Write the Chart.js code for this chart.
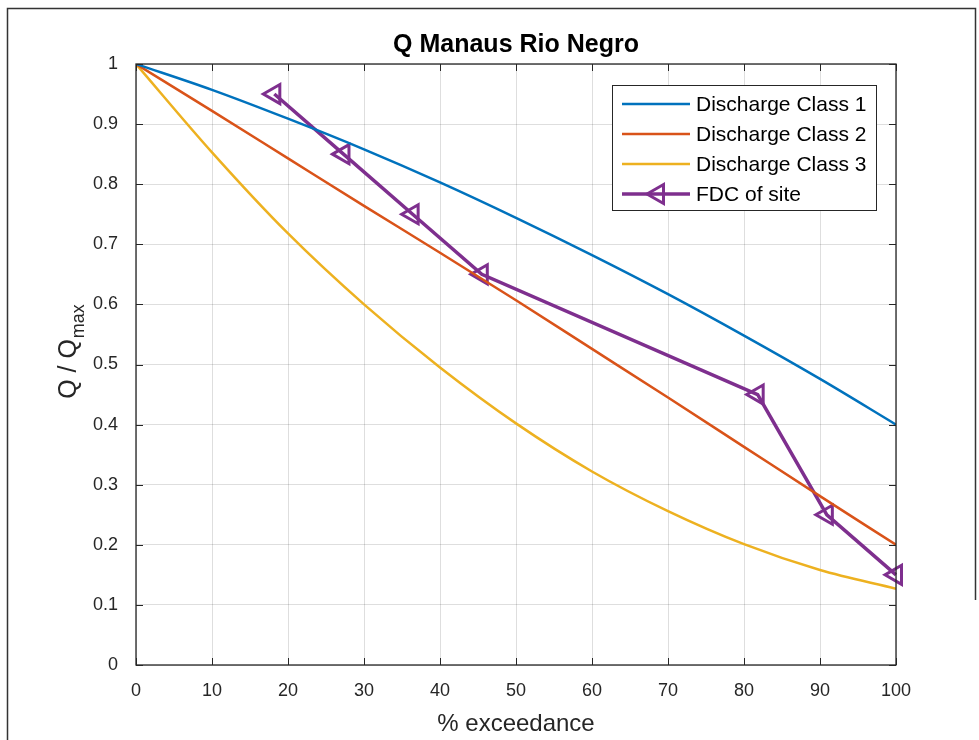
<!DOCTYPE html>
<html lang="en">
<head>
    <meta charset="UTF-8">
    <title>Q Manaus Rio Negro</title>
    <script src="https://cdn.jsdelivr.net/npm/chart.js"></script>
    <style>
        body {
            margin: 0;
            background-color: #ffffff;
        }
        .chart-box {
            width: 979px;
            height: 740px;
        }
    </style>
</head>
<body>
    <div class="chart-box">
        <canvas id="fdcChart" width="979" height="740"></canvas>
    </div>

<script>
    // values
    const exceedance = [0, 10, 20, 30, 40, 50, 60, 70, 80, 90, 100];
    const class1 = [1, 0.957, 0.909, 0.858, 0.803, 0.744, 0.682, 0.617, 0.548, 0.476, 0.4];
    const class2 = [1, 0.922, 0.843, 0.764, 0.686, 0.607, 0.526, 0.445, 0.363, 0.281, 0.2];
    const class3 = [1, 0.853, 0.718, 0.600, 0.495, 0.402, 0.322, 0.256, 0.201, 0.158, 0.127];
    const siteX = [18.2, 27.3, 36.4, 45.5, 81.8, 90.9, 100];
    const siteY = [0.95, 0.85, 0.75, 0.65, 0.45, 0.25, 0.15];
    const seriesNames = ['Discharge Class 1', 'Discharge Class 2', 'Discharge Class 3', 'FDC of site'];
    const seriesColors = ['#0072BD', '#D95319', '#EDB120', '#7E2F8E'];

    const fontFamily = "'Liberation Sans', Arial, Helvetica, sans-serif";
    const axisColor = '#262626';

    const toPoints = (xs, ys) => xs.map((x, i) => ({ x: x, y: ys[i] }));

    const classSet = (idx, values) => ({
        label: seriesNames[idx],
        data: toPoints(exceedance, values),
        borderColor: seriesColors[idx],
        borderWidth: 2.5,
        pointRadius: 0,
        cubicInterpolationMode: 'monotone',
        fill: false
    });

    // frame, box, inward ticks, legend, titles (MATLAB look)
    const decorPlugin = {
        id: 'decor',
        beforeDraw(chart) {
            const ctx = chart.ctx;
            ctx.save();
            ctx.fillStyle = '#ffffff';
            ctx.fillRect(0, 0, chart.width, chart.height);
            ctx.strokeStyle = '#333333';
            ctx.lineWidth = 1.5;
            ctx.beginPath();
            ctx.moveTo(7.5, chart.height);
            ctx.lineTo(7.5, 8.5);
            ctx.lineTo(975.5, 8.5);
            ctx.lineTo(975.5, 600);
            ctx.stroke();
            ctx.restore();
        },
        afterDraw(chart) {
            const ctx = chart.ctx;
            const a = chart.chartArea;
            const xs = chart.scales.x;
            const ys = chart.scales.y;
            ctx.save();

            // axes box
            ctx.strokeStyle = axisColor;
            ctx.lineWidth = 1.3;
            ctx.strokeRect(a.left, a.top, a.right - a.left, a.bottom - a.top);

            // inward ticks on all four sides
            ctx.lineWidth = 1;
            ctx.beginPath();
            xs.ticks.forEach(t => {
                const px = Math.round(xs.getPixelForValue(t.value)) + 0.5;
                ctx.moveTo(px, a.bottom); ctx.lineTo(px, a.bottom - 7);
                ctx.moveTo(px, a.top); ctx.lineTo(px, a.top + 7);
            });
            ys.ticks.forEach(t => {
                const py = Math.round(ys.getPixelForValue(t.value)) + 0.5;
                ctx.moveTo(a.left, py); ctx.lineTo(a.left + 7, py);
                ctx.moveTo(a.right, py); ctx.lineTo(a.right - 7, py);
            });
            ctx.stroke();

            // legend
            const lx = 612, ly = 85, lw = 264, lh = 125;
            ctx.fillStyle = '#ffffff';
            ctx.fillRect(lx, ly, lw, lh);
            ctx.strokeStyle = axisColor;
            ctx.lineWidth = 1;
            ctx.strokeRect(lx + 0.5, ly + 0.5, lw, lh);
            ctx.font = '21px ' + fontFamily;
            ctx.textBaseline = 'middle';
            ctx.textAlign = 'left';
            seriesNames.forEach((name, i) => {
                const cy = ly + 19 + i * 30;
                ctx.strokeStyle = seriesColors[i];
                ctx.lineWidth = i === 3 ? 3.5 : 2.5;
                ctx.beginPath();
                ctx.moveTo(lx + 10, cy);
                ctx.lineTo(lx + 78, cy);
                ctx.stroke();
                if (i === 3) {
                    const cx = lx + 46, r = 11;
                    ctx.lineWidth = 3;
                    ctx.beginPath();
                    ctx.moveTo(cx - r, cy);
                    ctx.lineTo(cx + r / 2, cy - r * 0.866);
                    ctx.lineTo(cx + r / 2, cy + r * 0.866);
                    ctx.closePath();
                    ctx.stroke();
                }
                ctx.fillStyle = '#000000';
                ctx.fillText(name, lx + 84, cy + 1);
            });

            // title
            ctx.fillStyle = '#000000';
            ctx.font = 'bold 25px ' + fontFamily;
            ctx.textAlign = 'center';
            ctx.textBaseline = 'alphabetic';
            ctx.fillText('Q Manaus Rio Negro', (a.left + a.right) / 2, 52);

            // x axis title
            ctx.fillStyle = axisColor;
            ctx.font = '24px ' + fontFamily;
            ctx.fillText('% exceedance', (a.left + a.right) / 2, 731);

            // y axis title with subscript
            ctx.translate(76, 352);
            ctx.rotate(-Math.PI / 2);
            ctx.textAlign = 'left';
            ctx.font = '25px ' + fontFamily;
            const main = 'Q / Q';
            const w1 = ctx.measureText(main).width;
            ctx.font = '18px ' + fontFamily;
            const w2 = ctx.measureText('max').width;
            const start = -(w1 + w2) / 2;
            ctx.font = '25px ' + fontFamily;
            ctx.fillText(main, start, 0);
            ctx.font = '18px ' + fontFamily;
            ctx.fillText('max', start + w1 + 1, 8);

            ctx.restore();
        }
    };

    const ctx = document.getElementById('fdcChart').getContext('2d');
    new Chart(ctx, {
        type: 'line',
        data: {
            datasets: [
                classSet(0, class1),
                classSet(1, class2),
                classSet(2, class3),
                {
                    label: seriesNames[3],
                    data: toPoints(siteX, siteY),
                    borderColor: seriesColors[3],
                    borderWidth: 3.5,
                    tension: 0,
                    pointStyle: 'triangle',
                    rotation: -90,
                    pointRadius: 11,
                    pointBorderWidth: 3,
                    pointBorderColor: seriesColors[3],
                    pointBackgroundColor: 'rgba(255,255,255,0)',
                    clip: false,
                    fill: false
                }
            ]
        },
        options: {
            responsive: false,
            animation: false,
            layout: {
                padding: { top: 64, right: 83, bottom: 0, left: 0 }
            },
            plugins: {
                legend: { display: false },
                title: { display: false },
                tooltip: { enabled: false }
            },
            scales: {
                x: {
                    type: 'linear',
                    min: 0,
                    max: 100,
                    afterFit: scale => { scale.height = 75; },
                    ticks: {
                        stepSize: 10,
                        padding: 15,
                        color: axisColor,
                        font: { family: fontFamily, size: 18 },
                        maxRotation: 0
                    },
                    grid: { color: 'rgba(0,0,0,0.13)', drawTicks: false },
                    border: { display: false }
                },
                y: {
                    min: 0,
                    max: 1,
                    afterFit: scale => { scale.width = 136; },
                    ticks: {
                        stepSize: 0.1,
                        padding: 18,
                        color: axisColor,
                        font: { family: fontFamily, size: 18 },
                        callback: v => String(Math.round(v * 10) / 10)
                    },
                    grid: { color: 'rgba(0,0,0,0.13)', drawTicks: false },
                    border: { display: false }
                }
            }
        },
        plugins: [decorPlugin]
    });
</script>
</body>
</html>
